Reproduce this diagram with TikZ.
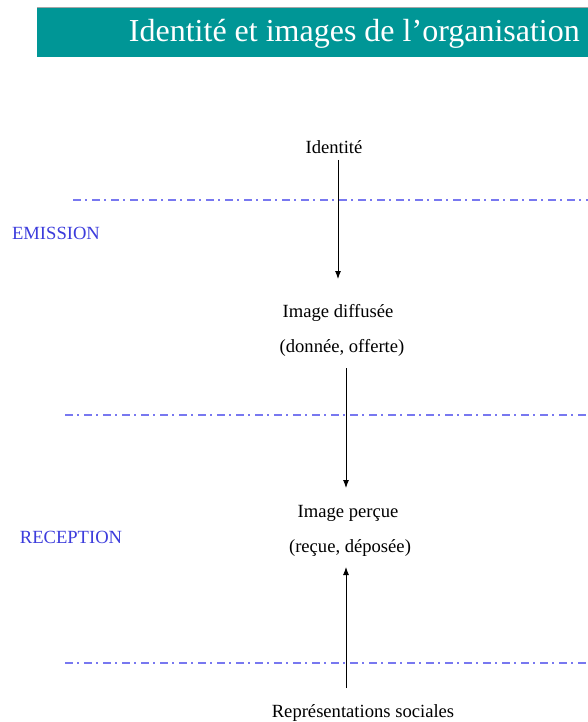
\documentclass[tikz,border=0pt]{standalone}
\usepackage{fontspec}
\setmainfont{Liberation Serif}
\usetikzlibrary{arrows.meta}
\definecolor{teal1}{RGB}{0,150,150}
\definecolor{sep}{RGB}{120,120,240}
\definecolor{lab}{RGB}{60,60,220}
\begin{document}
\begin{tikzpicture}[x=1pt,y=-1pt,
  txt/.style={inner sep=0pt,font=\fontsize{18.6}{20}\selectfont},
  blab/.style={txt,text=lab},
  sepline/.style={draw=sep,line width=1.1pt,dash pattern=on 8pt off 4pt on 2pt off 5pt},
  arr/.style={draw=black,line width=0.9pt,-{Latex[length=8pt,width=6pt]}}]
\useasboundingbox (0,0) rectangle (588,722);
% title bar
\fill[teal1] (37,8) rectangle (588,57);
\draw[gray!70,line width=0.7pt] (37,7.5) -- (588,7.5);
\node[inner sep=0pt,text=white,font=\fontsize{32}{34}\selectfont,anchor=east] (title) at (580,34) {Identité et images de l’organisation};
% separator lines
\coordinate (s1a) at (73,200); \coordinate (s1b) at (588,200);
\coordinate (s2a) at (65,415); \coordinate (s2b) at (588,415);
\coordinate (s3a) at (65,663); \coordinate (s3b) at (588,663);
\draw[sepline] (s1a) -- (s1b);
\draw[sepline] (s2a) -- (s2b);
\draw[sepline] (s3a) -- (s3b);
% labels
\node[txt] (id) at (334,147) {Identité};
\node[blab] (em) at (56,233) {EMISSION};
\node[txt] (diff) at (338,313) {Image diffusée};
\node[txt] (diff2) at (342,348) {(donnée, offerte)};
\node[txt] (perc) at (348,513) {Image perçue};
\node[txt] (perc2) at (350,548) {(reçue, déposée)};
\node[blab] (rec) at (71,537) {RECEPTION};
\node[txt] (rep) at (363,713) {Représentations sociales};
% arrows
\coordinate (a1s) at (338,160); \coordinate (a1e) at (338,279);
\coordinate (a2s) at (346,368); \coordinate (a2e) at (346,488);
\coordinate (a3s) at (346,688); \coordinate (a3e) at (346,567);
\draw[arr] (a1s) -- (a1e);
\draw[arr] (a2s) -- (a2e);
\draw[arr] (a3s) -- (a3e);
\end{tikzpicture}
\end{document}
